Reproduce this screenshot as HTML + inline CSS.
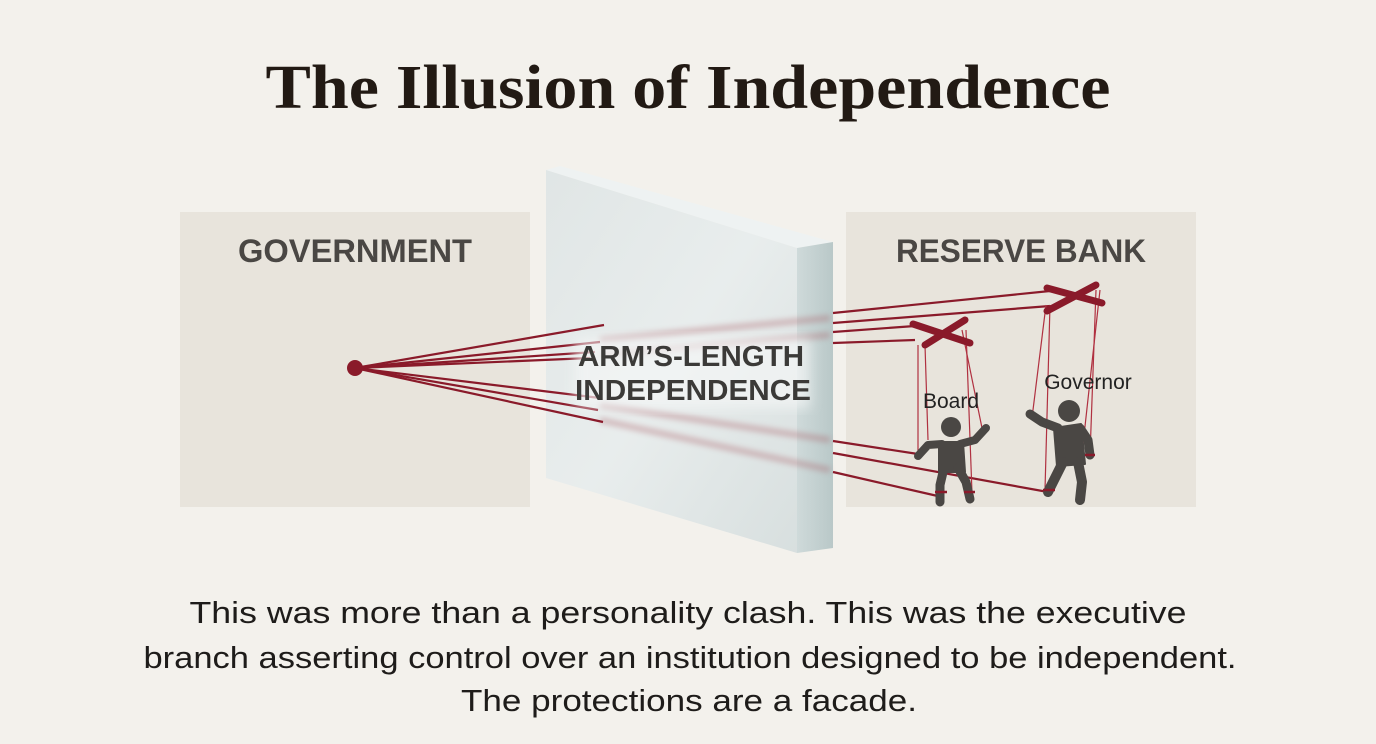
<!DOCTYPE html>
<html><head><meta charset="utf-8"><style>
html,body{margin:0;padding:0;background:#f3f1ec;}
svg{display:block}
</style></head><body>
<svg width="1376" height="744" viewBox="0 0 1376 744" xmlns="http://www.w3.org/2000/svg">
<defs>
<linearGradient id="glass" x1="0" y1="0" x2="1" y2="1">
<stop offset="0" stop-color="#dfe5e5"/><stop offset="0.5" stop-color="#e8eded"/><stop offset="1" stop-color="#d6dede"/>
</linearGradient>
<linearGradient id="side" x1="0" y1="0" x2="1" y2="0">
<stop offset="0" stop-color="#cfdada"/><stop offset="1" stop-color="#b9c8c8"/>
</linearGradient>
<filter id="blur"><feGaussianBlur stdDeviation="3"/></filter>
<filter id="glow"><feGaussianBlur stdDeviation="6"/></filter>
</defs>
<rect width="1376" height="744" fill="#f3f1ec"/>
<text x="688" y="108" text-anchor="middle" font-family="Liberation Serif, serif" font-weight="bold" font-size="62" fill="#221a14" textLength="845" lengthAdjust="spacingAndGlyphs">The Illusion of Independence</text>

<rect x="180" y="212" width="350" height="295" fill="#e8e4dc"/>
<rect x="846" y="212" width="350" height="295" fill="#e8e4dc"/>
<text x="355" y="262" text-anchor="middle" font-family="Liberation Sans, sans-serif" font-weight="bold" font-size="32" fill="#4a4744" textLength="234" lengthAdjust="spacingAndGlyphs">GOVERNMENT</text>
<text x="1021" y="262" text-anchor="middle" font-family="Liberation Sans, sans-serif" font-weight="bold" font-size="32" fill="#4a4744" textLength="250" lengthAdjust="spacingAndGlyphs">RESERVE BANK</text>

<!-- glass -->
<polygon points="546,170 560,166 833,242 797,248" fill="#eef2f2"/>
<polygon points="797,248 833,242 833,548 797,553" fill="url(#side)"/>
<polygon points="546,170 797,248 797,553 546,478" fill="url(#glass)" opacity="0.95"/>
<g stroke="#a85a62" stroke-width="6" opacity="0.35" filter="url(#blur)">
<line x1="600" y1="340" x2="830" y2="318"/>
<line x1="600" y1="355" x2="830" y2="335"/>
<line x1="600" y1="405" x2="830" y2="440"/>
<line x1="600" y1="420" x2="830" y2="470"/>
</g>

<!-- strings from government -->
<g stroke="#8a1a2a" stroke-width="2.2" fill="none">
<line x1="355" y1="368" x2="604" y2="325"/>
<line x1="355" y1="368" x2="600" y2="342"/>
<line x1="355" y1="368" x2="595" y2="352"/>
<line x1="355" y1="368" x2="590" y2="358"/>
<line x1="355" y1="368" x2="600" y2="398"/>
<line x1="355" y1="368" x2="598" y2="410"/>
<line x1="355" y1="368" x2="603" y2="422"/>
</g>
<circle cx="355" cy="368" r="8" fill="#8a1a2a"/>

<rect x="575" y="338" width="235" height="70" fill="#f4f6f6" opacity="0.7" filter="url(#glow)"/>
<text x="691" y="366" text-anchor="middle" font-family="Liberation Sans, sans-serif" font-weight="bold" font-size="29" fill="#3b3a38" textLength="226" lengthAdjust="spacingAndGlyphs">ARM’S-LENGTH</text>
<text x="693" y="400" text-anchor="middle" font-family="Liberation Sans, sans-serif" font-weight="bold" font-size="29" fill="#3b3a38" textLength="236" lengthAdjust="spacingAndGlyphs">INDEPENDENCE</text>

<!-- strings to controls -->
<g stroke="#8a1a2a" stroke-width="2.2" fill="none">
<line x1="833" y1="313" x2="1050" y2="291"/>
<line x1="833" y1="323" x2="1050" y2="306"/>
<line x1="833" y1="332" x2="915" y2="326"/>
<line x1="833" y1="343" x2="915" y2="340"/>
<line x1="833" y1="441" x2="918" y2="454"/>
<line x1="833" y1="453" x2="1048" y2="492"/>
<line x1="833" y1="472" x2="942" y2="497"/>
</g>
<g stroke="#b03040" stroke-width="1.2" fill="none">
<line x1="918" y1="345" x2="918" y2="452"/>
<line x1="925" y1="345" x2="928" y2="440"/>
<line x1="962" y1="330" x2="982" y2="428"/>
<line x1="966" y1="330" x2="972" y2="493"/>
<line x1="1046" y1="305" x2="1032" y2="418"/>
<line x1="1050" y1="305" x2="1045" y2="490"/>
<line x1="1096" y1="290" x2="1090" y2="455"/>
<line x1="1100" y1="290" x2="1078" y2="490"/>
</g>
<g stroke="#8a1a2a" stroke-width="7" stroke-linecap="round">
<line x1="913" y1="324" x2="970" y2="343"/>
<line x1="925" y1="345" x2="965" y2="320"/>
<line x1="1047" y1="288" x2="1102" y2="303"/>
<line x1="1047" y1="311" x2="1096" y2="285"/>
</g>
<text x="951" y="408" text-anchor="middle" font-family="Liberation Sans, sans-serif" font-size="21" fill="#222">Board</text>
<text x="1088" y="389" text-anchor="middle" font-family="Liberation Sans, sans-serif" font-size="21" fill="#222">Governor</text>
<g fill="#4a4744" stroke="#4a4744" stroke-linecap="round" stroke-linejoin="round">
<circle cx="951" cy="427" r="10" stroke="none"/>
<path d="M939 442 L963 442 L965 472 L939 472 Z" stroke-width="2"/>
<path d="M942 444 L928 445 L918 456 M960 444 L975 440 L986 428" stroke-width="8" fill="none"/>
<path d="M944 468 L940 485 L940 502 M958 468 L966 482 L970 499" stroke-width="9" fill="none"/>
</g>
<g fill="#4a4744" stroke="#4a4744" stroke-linecap="round" stroke-linejoin="round">
<circle cx="1069" cy="411" r="11" stroke="none"/>
<path d="M1054 428 L1081 424 L1085 464 L1057 466 Z" stroke-width="2"/>
<path d="M1058 428 L1042 422 L1030 414 M1080 428 L1088 440 L1090 455" stroke-width="9" fill="none"/>
<path d="M1063 462 L1055 478 L1048 492 M1078 462 L1082 482 L1080 500" stroke-width="10" fill="none"/>
</g>
<g stroke="#8a1a2a" stroke-width="2.5">
<line x1="1043" y1="490" x2="1055" y2="490"/>
<line x1="935" y1="492" x2="947" y2="492"/>
<line x1="964" y1="492" x2="975" y2="492"/>
<line x1="1085" y1="455" x2="1095" y2="455"/>
</g>

<g font-family="Liberation Sans, sans-serif" font-size="31" fill="#1e1c1a" text-anchor="middle">
<text x="688" y="623" textLength="997" lengthAdjust="spacingAndGlyphs">This was more than a personality clash. This was the executive</text>
<text x="690" y="668" textLength="1093" lengthAdjust="spacingAndGlyphs">branch asserting control over an institution designed to be independent.</text>
<text x="689" y="711" textLength="456" lengthAdjust="spacingAndGlyphs">The protections are a facade.</text>
</g>
</svg>
</body></html>
